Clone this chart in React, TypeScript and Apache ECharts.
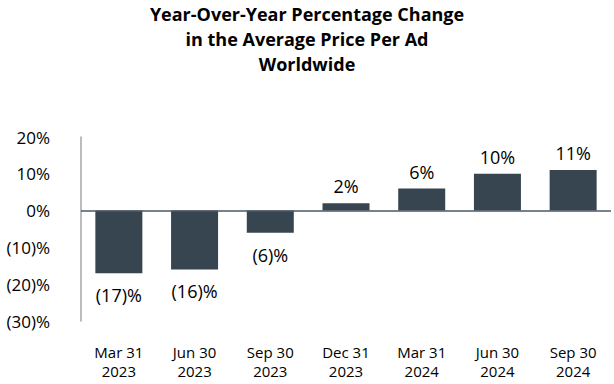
import React, { useEffect, useRef } from "react";
import * as echarts from "echarts";

const titleLines = ["Year-Over-Year Percentage Change", "in the Average Price Per Ad", "Worldwide"];
const categories = ["Mar 31\n2023", "Jun 30\n2023", "Sep 30\n2023", "Dec 31\n2023", "Mar 31\n2024", "Jun 30\n2024", "Sep 30\n2024"];
const values = [-17, -16, -6, 2, 6, 10, 11];
const yMin = -30;
const yMax = 20;
const yInterval = 10;

const FONT = "'Open Sans', 'Liberation Sans', sans-serif";
const BAR = "#36454f";

const fmt = (v: number) => (v < 0 ? `(${Math.abs(v)})%` : `${v}%`);

export default function App() {
  const ref = useRef<HTMLDivElement>(null);
  useEffect(() => {
    if (!ref.current) return;
    const chart = echarts.init(ref.current, null, { renderer: "svg" });
    chart.setOption({
      animation: false,
      backgroundColor: "#ffffff",
      title: {
        text: titleLines.join("\n"),
        left: "center",
        top: -4,
        textStyle: { fontFamily: FONT, fontSize: 18, fontWeight: "bold", color: "#000", lineHeight: 25 },
      },
      grid: { left: 81, right: 3, top: 137, bottom: 63 },
      xAxis: {
        type: "category",
        data: categories,
        axisLine: { show: false, onZero: false },
        axisTick: { show: false },
        axisLabel: { fontFamily: FONT, fontSize: 15, color: "#000", lineHeight: 19, margin: 21 },
      },
      yAxis: {
        type: "value",
        min: yMin,
        max: yMax,
        interval: yInterval,
        splitLine: { show: false },
        axisLine: { show: true, lineStyle: { color: "#a6a6a6", width: 1.5 } },
        axisTick: { show: false },
        axisLabel: { fontFamily: FONT, fontSize: 17, color: "#000", margin: 31, formatter: (v: number) => fmt(v) },
      },
      series: [
        {
          type: "bar",
          barWidth: 47,
          data: values.map((v) => ({
            value: v,
            label: {
              show: true,
              position: v < 0 ? "bottom" : "top",
              distance: v < 0 ? 13 : 8,
              formatter: () => fmt(v),
              fontFamily: FONT,
              fontSize: 18,
              color: "#000",
            },
          })),
          itemStyle: { color: BAR },
          markLine: {
            silent: true,
            symbol: ["none", "none"],
            label: { show: false },
            lineStyle: { color: "#4a5a66", width: 1.5, type: "solid" },
            data: [{ yAxis: 0 }],
          },
        },
      ],
    });
    return () => chart.dispose();
  }, []);
  return <div ref={ref} style={{ width: 614, height: 384, position: "absolute", left: 0, top: 0 }} />;
}
